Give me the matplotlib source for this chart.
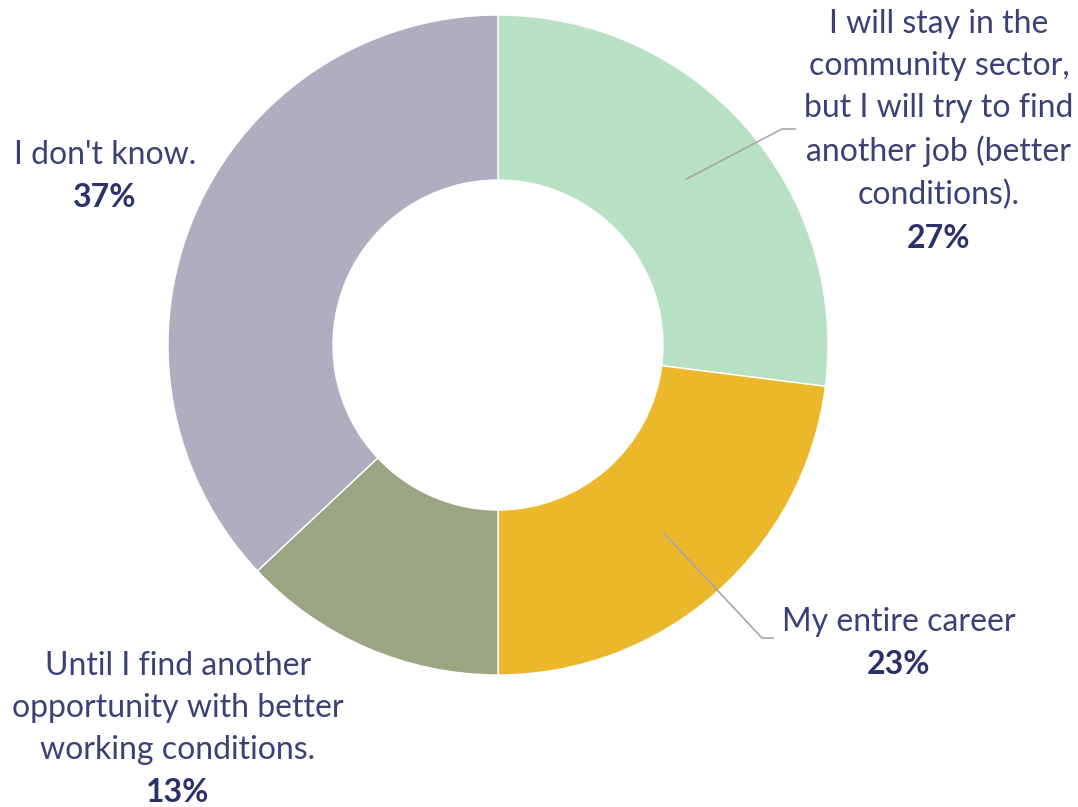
import matplotlib.pyplot as plt
import numpy as np

labels = [
    "I will stay in the\ncommunity sector,\nbut I will try to find\nanother job (better\nconditions).",
    "My entire career",
    "Until I find another\nopportunity with better\nworking conditions.",
    "I don't know.",
]
shares = [27, 23, 13, 37]
colors = ["#b8e0c5", "#ebb72b", "#9ba584", "#afaec1"]

TEXT_C = "#3c4076"
PCT_C = "#2c316c"
FONT = "Lato"

W, H = 1078, 807
CX, CY, R = 498, 345, 330

fig = plt.figure(figsize=(W / 100, H / 100), dpi=100)
ax = fig.add_axes([0, 0, 1, 1])

# y axis runs downward, so counterclock=True draws clockwise on screen
wedges, _ = ax.pie(shares, colors=colors, startangle=-90, counterclock=True,
                   center=(CX, CY), radius=R,
                   wedgeprops=dict(width=R * 0.5, edgecolor="white", linewidth=1))
ax.set_xlim(0, W)
ax.set_ylim(H, 0)
ax.set_aspect("equal")
ax.axis("off")

# label text positions (centre of text block, top y) and leader-line elbows
label_pos = [(939, 9), (899, 607), (178, 651), (105, 140)]
elbows = [((782, 129), (795, 129)), ((762, 638), (773, 638)), None, None]

fs = 23
line_h = 43
for lab, s, (lx, ly), elb, w in zip(labels, shares, label_pos, elbows, wedges):
    n = lab.count("\n") + 1
    ax.text(lx, ly, lab, ha="center", va="top", fontsize=fs, color=TEXT_C,
            family=FONT, linespacing=1.5)
    ax.text(lx, ly + n * line_h - 2 * (n == 3), f"{s}%", ha="center", va="top",
            fontsize=fs, color=PCT_C, family=FONT, fontweight="bold")
    if elb is not None:
        mid = np.deg2rad((w.theta1 + w.theta2) / 2)
        sx = CX + 0.76 * R * np.cos(mid)
        sy = CY + 0.76 * R * np.sin(mid)
        (ex, ey), (fx, fy) = elb
        ax.plot([sx, ex, fx], [sy, ey, fy], color="#a6a6a6", linewidth=1.2)

fig.savefig("out.png", dpi=100, facecolor="white")
